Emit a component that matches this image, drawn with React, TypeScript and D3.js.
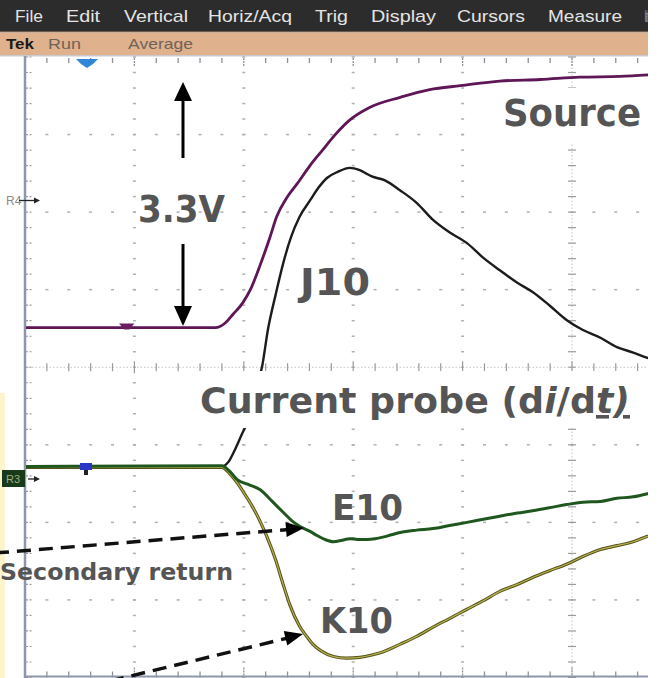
import React from "react";
import * as d3 from "d3";

// ---- data (screen divisions: time 0..10 div, level -4..4 div) ----
const menuItems = ["File", "Edit", "Vertical", "Horiz/Acq", "Trig", "Display", "Cursors", "Measure", "Math"];
const statusItems = ["Tek", "Run", "Average"];

const sourceTime = [0.01, 0.32, 0.69, 1.14, 1.6, 1.74, 1.83, 1.9, 1.99, 2.06, 2.15, 2.24, 2.3, 2.39, 2.49, 2.61, 2.72, 2.83, 2.97, 3.15, 3.43, 3.7, 3.98, 4.34, 4.71, 5.07, 5.44, 5.7];
const sourceLevel = [0.51, 0.51, 0.51, 0.51, 0.51, 0.51, 0.57, 0.68, 0.83, 1.0, 1.32, 1.68, 1.94, 2.18, 2.37, 2.61, 2.8, 2.99, 3.19, 3.35, 3.48, 3.58, 3.63, 3.69, 3.71, 3.74, 3.75, 3.77];

const j10Time = [1.8, 1.86, 1.92, 1.98, 2.04, 2.1, 2.17, 2.22, 2.29, 2.36, 2.43, 2.51, 2.61, 2.68, 2.76, 2.86, 2.97, 3.06, 3.17, 3.29, 3.43, 3.58, 3.73, 3.88, 4.04, 4.19, 4.34, 4.5, 4.64, 4.8, 4.95, 5.1, 5.26, 5.41, 5.56, 5.69];
const j10Level = [-1.29, -1.22, -1.06, -0.87, -0.68, -0.35, 0.03, 0.48, 0.93, 1.34, 1.67, 1.94, 2.16, 2.31, 2.44, 2.52, 2.57, 2.54, 2.46, 2.41, 2.28, 2.12, 1.9, 1.74, 1.6, 1.41, 1.25, 1.09, 0.97, 0.79, 0.61, 0.48, 0.38, 0.26, 0.19, 0.12];

const e10Time = [0.01, 1.8, 1.87, 1.94, 2.04, 2.15, 2.26, 2.36, 2.44, 2.51, 2.61, 2.67, 2.74, 2.82, 2.9, 2.97, 3.04, 3.13, 3.2, 3.27, 3.35, 3.43, 3.58, 3.73, 3.88, 4.04, 4.19, 4.34, 4.5, 4.64, 4.8, 4.95, 5.1, 5.26, 5.41, 5.56, 5.69];
const e10Level = [-1.28, -1.27, -1.34, -1.45, -1.51, -1.58, -1.73, -1.87, -1.98, -2.05, -2.12, -2.17, -2.22, -2.25, -2.23, -2.21, -2.22, -2.22, -2.21, -2.19, -2.16, -2.13, -2.1, -2.08, -2.04, -2.0, -1.96, -1.92, -1.88, -1.85, -1.81, -1.77, -1.74, -1.73, -1.69, -1.67, -1.63];

const k10Time = [0.01, 1.8, 1.87, 1.94, 2.01, 2.08, 2.15, 2.21, 2.29, 2.36, 2.42, 2.51, 2.58, 2.63, 2.71, 2.82, 2.94, 3.06, 3.17, 3.27, 3.43, 3.58, 3.73, 3.88, 4.04, 4.19, 4.34, 4.5, 4.64, 4.8, 4.95, 5.1, 5.26, 5.41, 5.56, 5.69];
const k10Level = [-1.29, -1.29, -1.37, -1.49, -1.64, -1.8, -1.99, -2.18, -2.48, -2.8, -3.06, -3.34, -3.48, -3.57, -3.66, -3.73, -3.75, -3.74, -3.71, -3.67, -3.57, -3.47, -3.35, -3.24, -3.12, -3.01, -2.89, -2.8, -2.71, -2.62, -2.54, -2.44, -2.35, -2.3, -2.25, -2.18];

// ---- layout ----
const W = 669;
const H = 678;
const menuLayout = [
  [15, 28], [66, 34], [124, 64], [208, 84], [315, 33], [371, 65], [457, 68], [548, 74], [645, 3],
];
const statusLayout = [[6, 28], [48, 33], [128, 65]];
const RIGHT = 648;

const x = d3.scaleLinear().domain([0, 10]).range([25, 1119]);
const y = d3.scaleLinear().domain([-4, 4]).range([677.5, 57]);

function zip(t: number[], v: number[]): [number, number][] {
  return t.map((tt, i) => [tt, v[i]]);
}

const line = d3
  .line<[number, number]>()
  .x((d) => x(d[0]))
  .y((d) => y(d[1]))
  .curve(d3.curveMonotoneX);

function Grid() {
  const els: React.ReactNode[] = [];
  const dotC = "#b0b0b0";
  const minorY = d3.range(-4, 4.001, 0.2);
  const minorX = d3.range(0, 10.001, 0.2);
  [1, 2, 3, 4].forEach((k) => {
    minorY.forEach((v, i) => {
      els.push(<rect key={`vd${k}-${i}`} x={x(k) - 1.5} y={y(v) - 0.75} width={3} height={1.5} fill={dotC} />);
    });
  });
  [-3, -2, -1, 1, 2, 3].forEach((j) => {
    minorX.forEach((v, i) => {
      if (x(v) > RIGHT || x(v) < 27) return;
      els.push(<rect key={`hd${j}-${i}`} x={x(v) - 1.5} y={y(j) - 0.75} width={3} height={1.5} fill={dotC} />);
    });
  });
  els.push(
    <line key="cv" x1={x(5)} x2={x(5)} y1={y(4)} y2={y(-4)} stroke="#c4c4c4" strokeWidth={1} strokeDasharray="1.5 2" />
  );
  minorY.forEach((v, i) => {
    els.push(<line key={`cvt${i}`} x1={x(5) - 4} x2={x(5) + 4} y1={y(v)} y2={y(v)} stroke="#9a9a9a" strokeWidth={1.2} />);
  });
  els.push(
    <line key="ch" x1={x(0)} x2={RIGHT} y1={y(0)} y2={y(0)} stroke="#c4c4c4" strokeWidth={1} strokeDasharray="1.5 2" />
  );
  minorX.forEach((v, i) => {
    if (x(v) > RIGHT) return;
    const major = Math.abs(v - Math.round(v)) < 1e-6;
    els.push(
      <line key={`cht${i}`} x1={x(v)} x2={x(v)} y1={y(0) - (major ? 6 : 4)} y2={y(0) + (major ? 6 : 4)} stroke="#9a9a9a" strokeWidth={1.2} />
    );
  });
  minorX.forEach((v, i) => {
    if (x(v) > RIGHT || v === 0) return;
    const major = Math.abs(v - Math.round(v)) < 1e-6;
    els.push(<line key={`tt${i}`} x1={x(v)} x2={x(v)} y1={y(4) + 1} y2={y(4) + (major ? 10 : 6)} stroke="#8f8f9a" strokeWidth={1.3} strokeDasharray={major ? "2 1" : undefined} />);
    els.push(<line key={`bt${i}`} x1={x(v)} x2={x(v)} y1={y(-4) - (major ? 10 : 6)} y2={y(-4)} stroke="#8f8f9a" strokeWidth={1.3} strokeDasharray={major ? "2 1" : undefined} />);
  });
  minorY.forEach((v, i) => {
    els.push(<line key={`lt${i}`} x1={x(0) + 1} x2={x(0) + 7} y1={y(v)} y2={y(v)} stroke="#9a9aa6" strokeWidth={1.2} strokeDasharray="2 1.5" />);
  });
  return <g>{els}</g>;
}

function arrowHead(tipX: number, tipY: number, fromX: number, fromY: number, len: number, half: number) {
  const dx = tipX - fromX;
  const dy = tipY - fromY;
  const L = Math.hypot(dx, dy);
  const ux = dx / L;
  const uy = dy / L;
  const bx = tipX - ux * len;
  const by = tipY - uy * len;
  return `${tipX},${tipY} ${bx - uy * half},${by + ux * half} ${bx + uy * half},${by - ux * half}`;
}

export default function App() {
  const font = "'DejaVu Sans', Verdana, sans-serif";
  const annC = "#555555";
  return (
    <svg width={W} height={H} style={{ position: "absolute", left: 0, top: 0, background: "#fff" }}>
      <defs>
        <clipPath id="plotClip">
          <rect x={26} y={57} width={RIGHT - 26} height={620} />
        </clipPath>
        <clipPath id="menuClip">
          <rect x={0} y={0} width={RIGHT} height={60} />
        </clipPath>
      </defs>
      <rect x={0} y={0} width={W} height={H} fill="#ffffff" />

      {/* menu bar */}
      <rect x={0} y={0} width={RIGHT} height={31} fill="#2c2c2c" />
      <g clipPath="url(#menuClip)">
        {menuItems.map((m, i) => (
          <text key={m} x={menuLayout[i][0]} y={22} fontFamily="'Liberation Sans', Arial, sans-serif" fontSize={17} fill="#e4e4e4" textLength={menuLayout[i][1]} lengthAdjust="spacingAndGlyphs">
            {m}
          </text>
        ))}
      </g>
      <rect x={0} y={31} width={RIGHT} height={1.5} fill="#6a5a4e" />
      <rect x={0} y={32.5} width={RIGHT} height={22.5} fill="#dfb18d" />
      <rect x={0} y={55} width={RIGHT} height={1.5} fill="#c9c9d2" />
      {statusItems.map((s, i) => (
        <text key={s} x={statusLayout[i][0]} y={49} fontFamily="'Liberation Sans', Arial, sans-serif" fontSize={15} fontWeight={i === 0 ? 700 : 400} fill={i === 0 ? "#1a1a1a" : "#6f6259"} textLength={statusLayout[i][1]} lengthAdjust="spacingAndGlyphs">
          {s}
        </text>
      ))}

      <rect x={0} y={393} width={5} height={285} fill="#fbf4cc" />

      <Grid />

      <line x1={x(0)} x2={x(0)} y1={56} y2={H} stroke="#8d96aa" strokeWidth={2.5} />
      <line x1={x(0)} x2={RIGHT} y1={676.5} y2={676.5} stroke="#8d96aa" strokeWidth={2} />

      {/* traces */}
      <g clipPath="url(#plotClip)" fill="none" strokeLinejoin="round" strokeLinecap="round">
        <path d={line(zip(sourceTime, sourceLevel)) || ""} stroke="#5e1656" strokeWidth={2.8} />
        <path d={line(zip(j10Time, j10Level)) || ""} stroke="#1c1c1c" strokeWidth={2.4} />
        <path d={line(zip(k10Time, k10Level)) || ""} stroke="#55531a" strokeWidth={3.2} />
        <path d={line(zip(k10Time, k10Level)) || ""} stroke="#b9b252" strokeWidth={1.2} />
        <path d={line(zip(e10Time, e10Level)) || ""} stroke="#1f571f" strokeWidth={3} />
      </g>

      {/* scope markers */}
      <polygon points="76,59 98,59 93,64 87,68 81,64" fill="#2f86d6" />
      <polygon points={`${x(0.88)},${y(0.55)} ${x(0.98)},${y(0.55)} ${x(0.95)},${y(0.5)} ${x(0.91)},${y(0.5)}`} fill="#6a1d60" stroke="#6a1d60" strokeWidth={2} />
      <rect x={80} y={463} width={12} height={7} fill="#2a34c8" />
      <rect x={84} y={470} width={4} height={5} fill="#222" />

      <text x={6} y={205} fontFamily="'Liberation Sans', Arial, sans-serif" fontSize={12} fill="#8a8a8a">R4</text>
      <line x1={19} x2={36} y1={200.5} y2={200.5} stroke="#222" strokeWidth={1.3} />
      <polygon points="40,200.5 34,197.5 34,203.5" fill="#222" />

      <rect x={2} y={470} width={23} height={17} fill="#18391a" />
      <text x={6} y={483} fontFamily="'Liberation Sans', Arial, sans-serif" fontSize={11} fill="#9fb07a">R3</text>
      <line x1={28} x2={36} y1={479} y2={479} stroke="#222" strokeWidth={1.3} />
      <polygon points="40,479 34,476 34,482" fill="#222" />

      {/* annotation boxes */}
      <rect x={470} y={88} width={RIGHT - 470} height={56} fill="#fff" />
      <rect x={195} y={371} width={450} height={57} fill="#fff" />

      {/* annotation texts */}
      <g fontFamily={font} fontWeight={700} fill={annC}>
        <text x={503} y={126} fontSize={38} textLength={138} lengthAdjust="spacingAndGlyphs">Source</text>
        <text x={138} y={222} fontSize={37} textLength={87} lengthAdjust="spacingAndGlyphs">3.3V</text>
        <text x={300} y={295} fontSize={37} textLength={70} lengthAdjust="spacingAndGlyphs">J10</text>
        <text x={200} y={413} fontSize={36} textLength={430} lengthAdjust="spacingAndGlyphs">
          Current probe (d<tspan fontStyle="italic">i</tspan>/d<tspan fontStyle="italic" textDecoration="underline">t)</tspan>
        </text>
        <text x={332} y={520} fontSize={35} textLength={71} lengthAdjust="spacingAndGlyphs">E10</text>
        <text x={320} y={633} fontSize={36} textLength={73} lengthAdjust="spacingAndGlyphs">K10</text>
        <text x={0} y={580} fontSize={23} textLength={233} lengthAdjust="spacingAndGlyphs">Secondary return</text>
      </g>

      {/* solid arrows */}
      <line x1={183} x2={183} y1={158} y2={98} stroke="#000" strokeWidth={3} />
      <polygon points="183,82 174,101 192,101" fill="#000" />
      <line x1={183} x2={183} y1={244} y2={310} stroke="#000" strokeWidth={3} />
      <polygon points="183,326 174,306 192,306" fill="#000" />

      {/* dashed arrows */}
      <line x1={-5} y1={553} x2={289} y2={529.5} stroke="#111" strokeWidth={3.5} strokeDasharray="14 8" />
      <polygon points={arrowHead(304, 528, -5, 553, 18, 7.5)} fill="#000" />
      <line x1={110} y1={681} x2={288} y2={638} stroke="#111" strokeWidth={3.5} strokeDasharray="14 8" />
      <polygon points={arrowHead(303, 634, 110, 681, 18, 7.5)} fill="#000" />
    </svg>
  );
}
